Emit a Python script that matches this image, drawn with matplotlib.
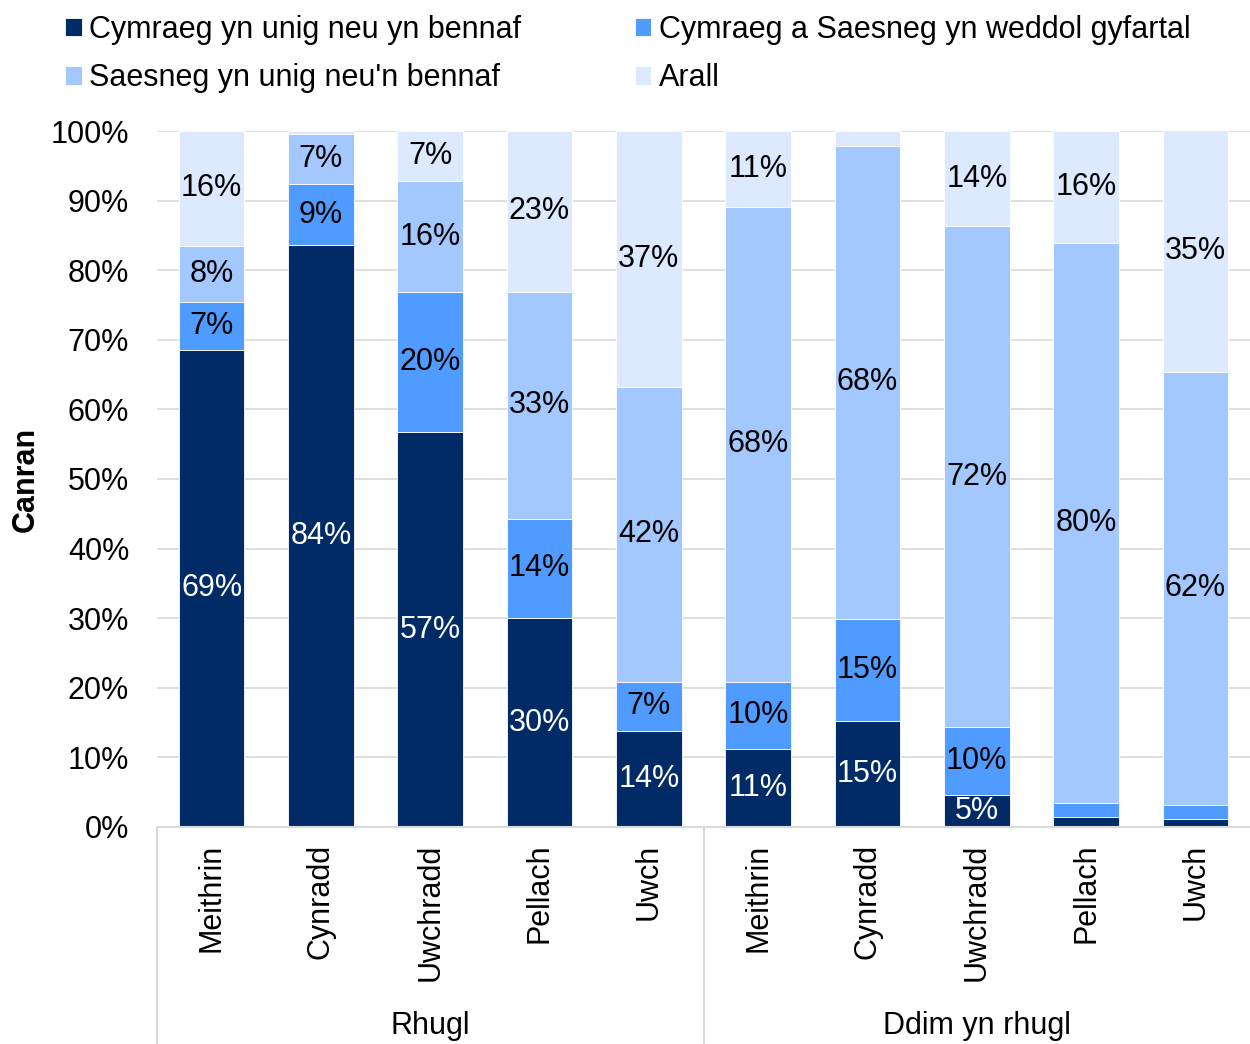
import matplotlib.pyplot as plt
import numpy as np

plt.rcParams['font.family'] = ['Liberation Sans', 'DejaVu Sans']

levels = ["Meithrin", "Cynradd", "Uwchradd", "Pellach", "Uwch"]
groups = ["Rhugl", "Ddim yn rhugl"]
series = ["Cymraeg yn unig neu yn bennaf", "Cymraeg a Saesneg yn weddol gyfartal",
          "Saesneg yn unig neu'n bennaf", "Arall"]
colors = ["#002B66", "#4F9BFF", "#A3C8FF", "#DCE9FF"]

# values per bar (Rhugl x5, then Ddim yn rhugl x5)
welsh = [68.6, 83.6, 56.7, 30.0, 13.8, 11.2, 15.2, 4.6, 1.5, 1.2]
both = [6.9, 8.8, 20.1, 14.3, 7.1, 9.7, 14.7, 9.8, 2.0, 2.0]
english = [8.0, 7.2, 16.0, 32.6, 42.3, 68.2, 68.0, 71.9, 80.4, 62.2]
other = [16.5, 0.4, 7.2, 23.1, 36.8, 10.9, 2.1, 13.7, 16.1, 34.8]

data = [welsh, both, english, other]
x = np.arange(len(welsh))
labels = levels * 2
fs = 22

fig = plt.figure(figsize=(12.5, 10.44), dpi=100)
ax = fig.add_axes([0.1256, 0.2079, 0.8744, 0.6666])

bottom = np.zeros(len(x))
handles = []
for i, (vals, col, name) in enumerate(zip(data, colors, series)):
    vals = np.array(vals)
    h = ax.bar(x, vals, 0.6, bottom=bottom, color=col, label=name, zorder=2,
               edgecolor='white', linewidth=0.6)
    handles.append(h)
    for xi, b, v in zip(x, bottom, vals):
        if v >= 4.5:
            tc = 'white' if i == 0 else 'black'
            ax.text(xi, b + v / 2, f"{v:.0f}%", ha='center', va='center',
                    fontsize=fs, color=tc, zorder=3)
    bottom += vals

ax.set_xlim(-0.5, len(x) - 0.5)
ax.set_ylim(0, 100)
ax.set_yticks(np.arange(0, 101, 10))
ax.set_yticklabels([f"{t}%" for t in range(0, 101, 10)], fontsize=fs)
ax.yaxis.grid(True, color='#D9D9D9', linewidth=1.2, zorder=0)
ax.tick_params(axis='y', length=0, pad=20)
ax.set_xticks(x)
ax.set_xticklabels(labels, rotation=90, fontsize=fs)
ax.tick_params(axis='x', length=0, pad=12)
for s in ['top', 'right', 'left']:
    ax.spines[s].set_visible(False)
ax.spines['bottom'].set_color('#D9D9D9')
ax.spines['bottom'].set_linewidth(1.5)
ax.set_ylabel("Canran", fontsize=fs, fontweight='bold', labelpad=7)

# group separators and labels below the axis
for xs in [-0.5, 4.5]:
    ax.plot([xs, xs], [0, -31.2], color='#D9D9D9', linewidth=1.5, clip_on=False)
for gi, g in enumerate(groups):
    ax.text(2 + gi * 5, -28.6, g, ha='center', va='center', fontsize=fs)

# legend filled row by row: reorder for column-wise filling
order = [0, 2, 1, 3]
fig.legend([handles[k] for k in order], [series[k] for k in order],
           loc='upper left', bbox_to_anchor=(0.03, 1.012), ncol=2, frameon=False,
           fontsize=fs, handlelength=0.55, handleheight=0.55, handletextpad=0.25,
           columnspacing=3.7, labelspacing=0.6)

fig.savefig("out.png", dpi=100)
